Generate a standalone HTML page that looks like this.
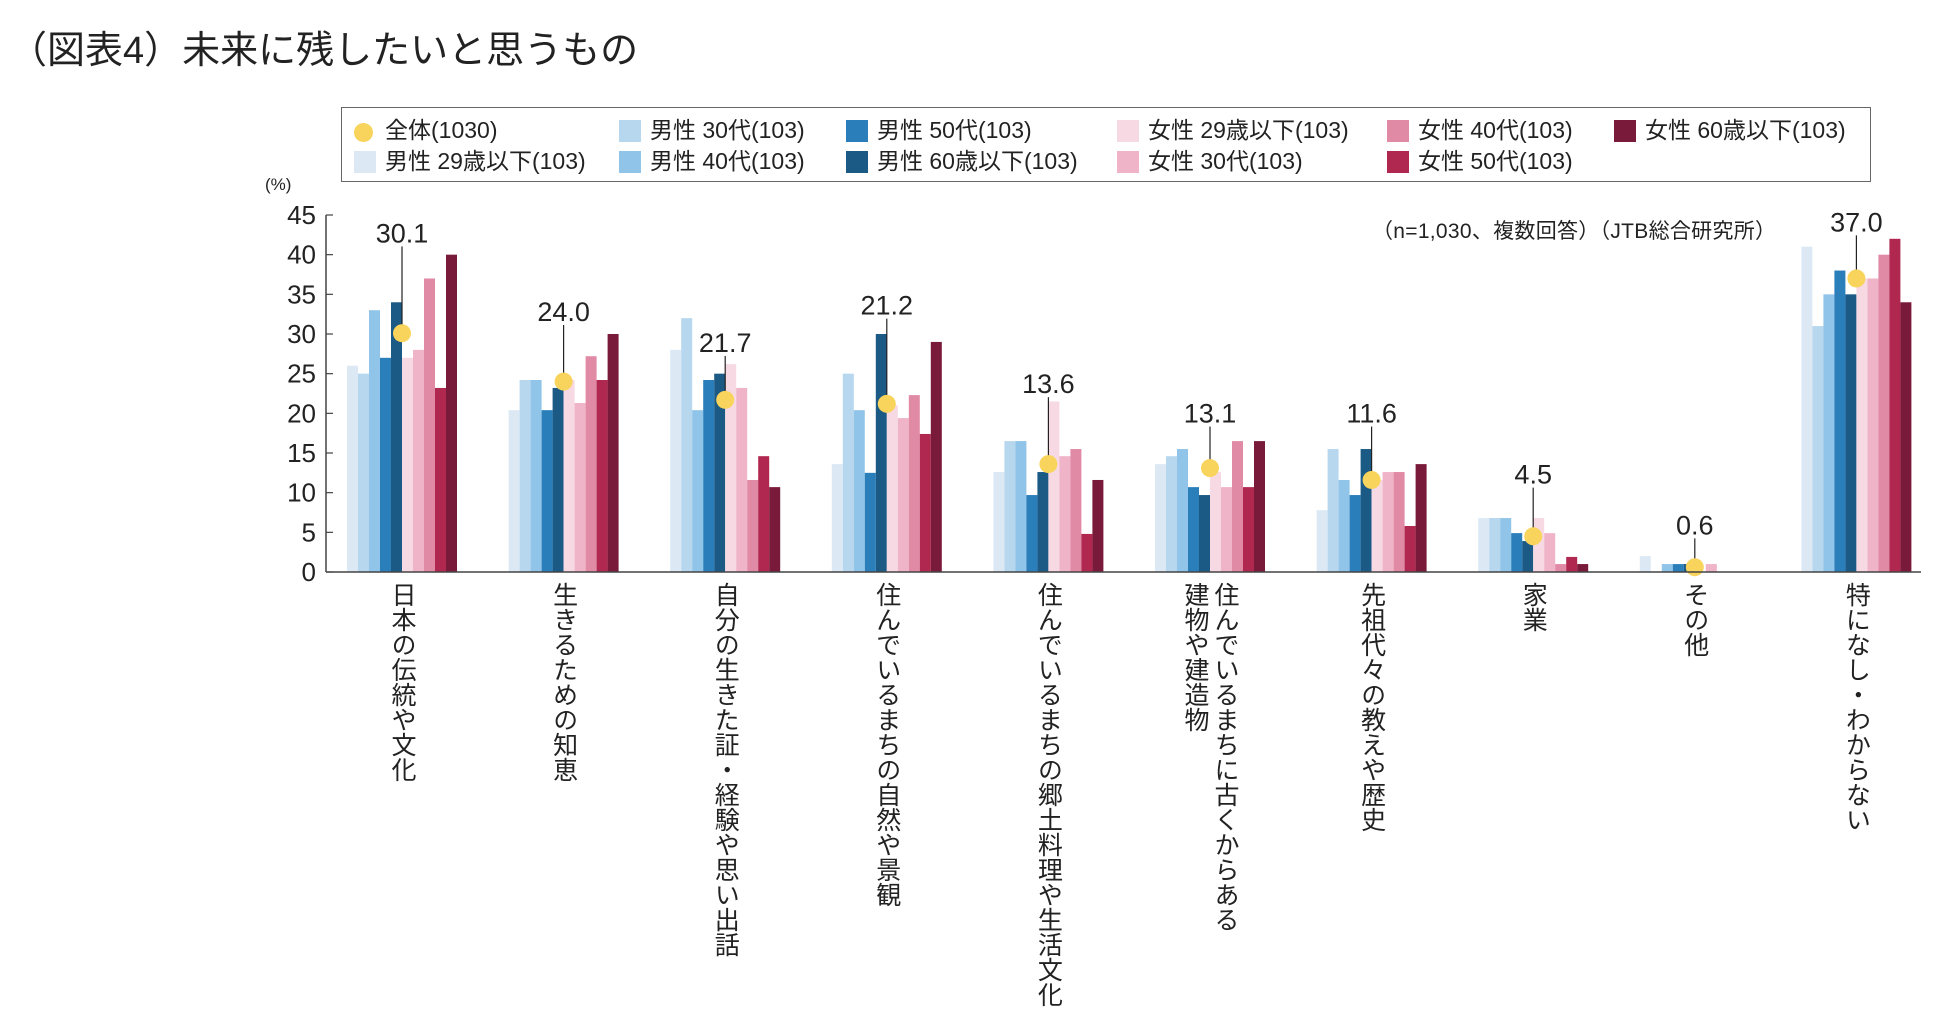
<!DOCTYPE html>
<html><head><meta charset="utf-8">
<style>
body{margin:0;background:#fff;width:1950px;height:1032px;overflow:hidden;font-family:"Liberation Sans","Noto Sans CJK JP",sans-serif;color:#222}
#title{position:absolute;left:9px;top:19px;font-size:38px;letter-spacing:0px}
#legend{position:absolute;left:341px;top:107px;width:1530px;height:75px;border:1.5px solid #666;box-sizing:border-box}
.le{position:absolute;font-size:23px;white-space:nowrap;line-height:26px}
.le i{display:inline-block;width:22px;height:22px;vertical-align:-4px;margin-right:9px}
.le i.c{border-radius:50%;width:19px;height:19px;background:#f9d45c;margin-right:12px}
.cat{position:absolute;writing-mode:vertical-rl;font-size:25px;line-height:30px;white-space:nowrap;top:582px}
</style></head><body>
<div id="title">（図表4）未来に残したいと思うもの</div>
<div id="legend"></div>
<svg id="chart" width="1950" height="1032" style="position:absolute;left:0;top:0"></svg>
<div id="cats"></div>
<script>
const categories=["日本の伝統や文化","生きるための知恵","自分の生きた証・経験や思い出話","住んでいるまちの自然や景観","住んでいるまちの郷土料理や生活文化","住んでいるまちに古くからある<br>建物や建造物","先祖代々の教えや歴史","家業","その他","特になし・わからない"];
const seriesNames=["男性 29歳以下(103)","男性 30代(103)","男性 40代(103)","男性 50代(103)","男性 60歳以下(103)","女性 29歳以下(103)","女性 30代(103)","女性 40代(103)","女性 50代(103)","女性 60歳以下(103)"];
const m29=[26,20.4,28,13.6,12.6,13.6,7.8,6.8,2,41];
const m30=[25,24.2,32,25,16.5,14.6,15.5,6.8,0,31];
const m40=[33,24.2,20.4,20.4,16.5,15.5,11.6,6.8,1,35];
const m50=[27,20.4,24.2,12.5,9.7,10.7,9.7,4.9,1,38];
const m60=[34,23.2,25,30,12.6,9.7,15.5,3.9,1,35];
const f29=[27,24.2,26.2,21,21.5,12.6,11.6,6.8,0,37];
const f30=[28,21.3,23.2,19.4,14.6,10.7,12.6,4.9,1,37];
const f40=[37,27.2,11.6,22.3,15.5,16.5,12.6,1,0,40];
const f50=[23.2,24.2,14.6,17.4,4.8,10.7,5.8,1.9,0,42];
const f60=[40,30,10.7,29,11.6,16.5,13.6,1,0,34];
const total=[30.1,24.0,21.7,21.2,13.6,13.1,11.6,4.5,0.6,37.0];
const labelLevel=[42.8,32.9,29,33.7,23.8,20.1,20.1,12.4,6,44.2];
const yTicks=[0,5,10,15,20,25,30,35,40,45];
const series=[m29,m30,m40,m50,m60,f29,f30,f40,f50,f60];
const colors=["#dce9f5","#b7d7ef","#90c4e8","#2a7fba","#1b5a85","#f7d9e3","#efb4c8","#e18aa6","#b0274f","#7a1a3a"];
const NS="http://www.w3.org/2000/svg";
const svg=document.getElementById('chart');
const X0=326,X1=1921,Y0=572,Y45=215;
const y=v=>Y0-(v/45)*(Y0-Y45);
const gx=i=>402+i*161.6;
const BW=11;
function mk(t,a){const e=document.createElementNS(NS,t);for(const k in a)e.setAttribute(k,a[k]);svg.appendChild(e);return e;}
categories.forEach((c,i)=>{
  series.forEach((s,j)=>{
    const x=gx(i)-5*BW+j*BW;
    const r=mk('rect',{x:x,y:y(s[i]),width:BW,height:Y0-y(s[i]),fill:colors[j]});
    
    
  });
});
categories.forEach((c,i)=>{
  const ly=y(labelLevel[i]);
  const l=mk('line',{x1:gx(i),x2:gx(i),y1:ly+14,y2:y(total[i]),stroke:'#222','stroke-width':1.2});
  
  
  const d=mk('circle',{cx:gx(i),cy:y(total[i]),r:9,fill:'#f9d45c'});
  
  
  const t=mk('text',{x:gx(i),y:ly+10,'text-anchor':'middle','font-size':27,fill:'#222'});
  t.textContent=total[i].toFixed(1);
  
  
});
let ax=mk('line',{x1:X0,x2:X0,y1:Y45,y2:Y0,stroke:'#444','stroke-width':1.5});


ax=mk('line',{x1:X0,x2:X1,y1:Y0,y2:Y0,stroke:'#444','stroke-width':1.5});


yTicks.forEach(v=>{
  const tk=mk('line',{x1:X0,x2:X0+7,y1:y(v),y2:y(v),stroke:'#444','stroke-width':1.2});
  
  
  const t=mk('text',{x:X0-10,y:y(v)+9,'text-anchor':'end','font-size':26,fill:'#222'});
  t.textContent=v;
  
  
});
let u=mk('text',{x:265,y:190,'font-size':17,fill:'#222'});u.textContent='(%)';


let n=mk('text',{x:1372,y:238,'font-size':21,fill:'#222',textLength:404});n.textContent='（n=1,030、複数回答）（JTB総合研究所）';


const cats=document.getElementById('cats');
categories.forEach((c,i)=>{
  const d=document.createElement('div');
  d.className='cat';d.innerHTML=c;
  cats.appendChild(d);
  const w=d.offsetWidth;d.style.left=(gx(i)-w/2)+'px';
  
  
});
const lg=document.getElementById('legend');
const legendOrder=[[-1,0,0],[1,1,0],[3,2,0],[5,3,0],[7,4,0],[9,5,0],[0,0,1],[2,1,1],[4,2,1],[6,3,1],[8,4,1]];
const colX=[12,277,504,775,1045,1272];
legendOrder.forEach(o=>{
  const e=document.createElement('div');e.className='le';
  e.style.left=colX[o[1]]+'px';e.style.top=(o[2]?40:9)+'px';
  if(o[0]<0)e.innerHTML='<i class="c"></i>全体(1030)';
  else e.innerHTML='<i style="background:'+colors[o[0]]+'"></i>'+seriesNames[o[0]];
  
  
  lg.appendChild(e);
});
</script>
</body></html>
